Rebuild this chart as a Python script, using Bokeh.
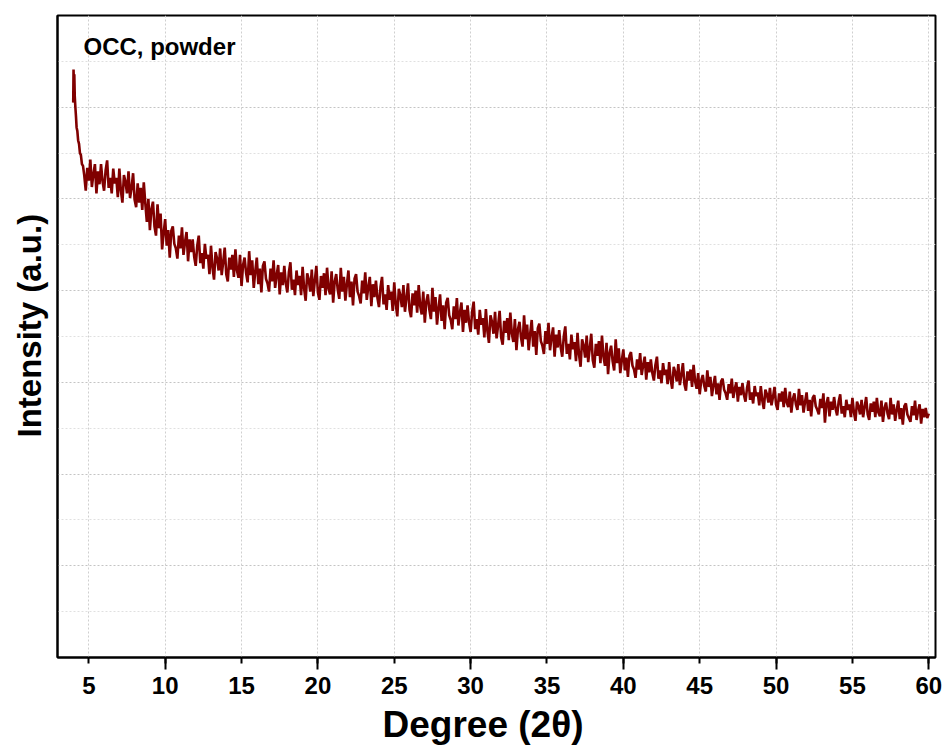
from bokeh.plotting import figure
from bokeh.models import Range1d, FixedTicker, Label, Title
from bokeh.embed import file_html
from bokeh.resources import INLINE

# ---- data ----
x_ticks = [5, 10, 15, 20, 25, 30, 35, 40, 45, 50, 55, 60]
x_long_ticks = [10, 20, 30, 40, 50, 60]
y_grid_major = [1, 2, 3, 4, 5, 6]
y_grid_minor = [0.5, 1.5, 2.5, 3.5, 4.5, 5.5, 6.5]

# initial steep part of the pattern
x_head = [3.98, 4.0, 4.02, 4.05, 4.08, 4.12, 4.16, 4.2, 4.25, 4.3, 4.36, 4.42, 4.48, 4.55, 4.62, 4.7]
y_head = [6.05, 6.41, 6.28, 6.36, 6.12, 6.00, 5.90, 5.78, 5.74, 5.64, 5.60, 5.50, 5.48, 5.38, 5.36, 5.26]

# intensity sampled every 0.1 degree from 4.8 to 60.0 (one row = 1 degree)
x_start = 4.8
x_step = 0.1
y_main = [
    5.09, 5.34, 5.20, 5.43, 5.13, 5.27, 5.38, 5.06, 5.30, 5.16,
    5.38, 5.19, 5.09, 5.31, 5.42, 5.12, 5.23, 5.06, 5.33, 5.17,
    5.23, 5.02, 5.33, 5.09, 4.96, 5.26, 5.19, 5.06, 5.30, 5.01,
    5.12, 5.28, 4.99, 4.91, 5.17, 4.96, 5.12, 4.88, 5.18, 4.95,
    4.75, 5.00, 4.66, 4.89, 4.97, 4.70, 4.60, 4.94, 4.68, 4.84,
    4.45, 4.63, 4.78, 4.49, 4.66, 4.36, 4.65, 4.70, 4.51, 4.46,
    4.35, 4.60, 4.46, 4.69, 4.39, 4.53, 4.64, 4.32, 4.56, 4.42,
    4.56, 4.37, 4.27, 4.49, 4.60, 4.30, 4.41, 4.24, 4.51, 4.35,
    4.39, 4.18, 4.49, 4.25, 4.12, 4.42, 4.35, 4.22, 4.46, 4.17,
    4.31, 4.47, 4.18, 4.10, 4.36, 4.23, 4.39, 4.15, 4.45, 4.22,
    4.14, 4.39, 4.05, 4.28, 4.36, 4.19, 4.09, 4.43, 4.17, 4.33,
    4.03, 4.21, 4.36, 4.07, 4.24, 3.98, 4.27, 4.32, 4.13, 4.08,
    3.99, 4.24, 4.10, 4.33, 4.03, 4.17, 4.28, 3.96, 4.20, 4.06,
    4.27, 4.08, 3.98, 4.20, 4.31, 4.01, 4.12, 3.95, 4.22, 4.06,
    4.16, 3.95, 4.26, 4.02, 3.89, 4.19, 4.12, 3.99, 4.23, 3.94,
    4.11, 4.27, 3.98, 3.90, 4.16, 4.03, 4.19, 3.95, 4.25, 4.02,
    3.96, 4.21, 3.87, 4.10, 4.18, 4.01, 3.91, 4.25, 3.99, 4.15,
    3.89, 4.07, 4.22, 3.93, 4.10, 3.84, 4.13, 4.18, 3.99, 3.94,
    3.86, 4.11, 3.97, 4.20, 3.90, 4.04, 4.15, 3.83, 4.07, 3.93,
    4.11, 3.92, 3.82, 4.04, 4.15, 3.85, 3.96, 3.79, 4.06, 3.90,
    3.99, 3.78, 4.09, 3.85, 3.72, 4.02, 3.95, 3.82, 4.06, 3.77,
    3.92, 4.08, 3.79, 3.71, 3.97, 3.84, 4.00, 3.76, 4.06, 3.83,
    3.74, 3.99, 3.65, 3.88, 3.96, 3.79, 3.69, 4.03, 3.77, 3.93,
    3.63, 3.81, 3.96, 3.67, 3.84, 3.58, 3.87, 3.92, 3.73, 3.68,
    3.58, 3.83, 3.69, 3.92, 3.62, 3.76, 3.87, 3.55, 3.79, 3.65,
    3.84, 3.65, 3.55, 3.77, 3.88, 3.58, 3.69, 3.52, 3.79, 3.63,
    3.70, 3.49, 3.80, 3.56, 3.43, 3.73, 3.66, 3.53, 3.77, 3.48,
    3.62, 3.78, 3.49, 3.41, 3.67, 3.54, 3.70, 3.46, 3.76, 3.53,
    3.44, 3.69, 3.35, 3.58, 3.66, 3.49, 3.39, 3.73, 3.47, 3.63,
    3.35, 3.53, 3.68, 3.39, 3.56, 3.30, 3.59, 3.64, 3.45, 3.40,
    3.31, 3.56, 3.42, 3.65, 3.35, 3.49, 3.60, 3.28, 3.52, 3.38,
    3.57, 3.38, 3.28, 3.50, 3.61, 3.31, 3.42, 3.25, 3.52, 3.36,
    3.44, 3.23, 3.54, 3.30, 3.17, 3.47, 3.40, 3.27, 3.51, 3.22,
    3.37, 3.53, 3.24, 3.16, 3.42, 3.29, 3.45, 3.21, 3.51, 3.28,
    3.18, 3.43, 3.09, 3.32, 3.40, 3.23, 3.13, 3.47, 3.21, 3.37,
    3.10, 3.24, 3.36, 3.13, 3.27, 3.06, 3.29, 3.33, 3.18, 3.14,
    3.05, 3.25, 3.14, 3.32, 3.08, 3.19, 3.28, 3.03, 3.22, 3.11,
    3.25, 3.10, 3.02, 3.19, 3.28, 3.04, 3.13, 2.99, 3.21, 3.08,
    3.14, 2.98, 3.22, 3.03, 2.93, 3.17, 3.11, 3.01, 3.20, 2.97,
    3.08, 3.21, 2.98, 2.91, 3.12, 3.02, 3.14, 2.95, 3.19, 3.01,
    2.93, 3.10, 2.87, 3.02, 3.08, 2.96, 2.90, 3.13, 2.95, 3.06,
    2.85, 2.97, 3.07, 2.87, 2.99, 2.81, 3.01, 3.04, 2.92, 2.88,
    2.81, 2.98, 2.88, 3.04, 2.83, 2.93, 3.00, 2.79, 2.95, 2.86,
    2.99, 2.86, 2.79, 2.94, 3.02, 2.81, 2.89, 2.77, 2.96, 2.85,
    2.89, 2.75, 2.96, 2.80, 2.71, 2.92, 2.87, 2.78, 2.94, 2.75,
    2.84, 2.95, 2.76, 2.70, 2.88, 2.79, 2.90, 2.73, 2.94, 2.78,
    2.73, 2.90, 2.67, 2.82, 2.88, 2.76, 2.70, 2.93, 2.75, 2.86,
    2.67, 2.79, 2.89, 2.69, 2.81, 2.63, 2.83, 2.86, 2.74, 2.70,
    2.65, 2.82, 2.72, 2.88, 2.56, 2.77, 2.84, 2.63, 2.79, 2.70,
    2.84, 2.71, 2.64, 2.79, 2.87, 2.66, 2.74, 2.62, 2.81, 2.70,
    2.76, 2.62, 2.83, 2.67, 2.58, 2.79, 2.74, 2.65, 2.81, 2.62,
    2.73, 2.84, 2.65, 2.59, 2.77, 2.68, 2.79, 2.62, 2.83, 2.67,
    2.63, 2.80, 2.57, 2.72, 2.78, 2.66, 2.60, 2.83, 2.65, 2.76,
    2.58, 2.70, 2.80, 2.60, 2.72, 2.54, 2.74, 2.77, 2.65, 2.61,
    2.57, 2.74, 2.64, 2.80, 2.59, 2.69, 2.76, 2.55, 2.71, 2.62,
    2.72, 2.61, 2.66,
]
x_main = [round(x_start + x_step * i, 2) for i in range(len(y_main))]

x = x_head + x_main
y = y_head + y_main

FONT = "Liberation Sans"

p = figure(frame_width=878, frame_height=642,
           x_range=Range1d(2.95, 60.44), y_range=Range1d(0, 7),
           output_backend="svg", toolbar_location=None,
           min_border_left=57, min_border_top=15, min_border_right=11,
           min_border_bottom=92)
p.background_fill_color = "white"
p.border_fill_color = "white"
p.outline_line_color = "black"
p.outline_line_width = 2

p.line(x, y, line_color="#800000", line_width=2.6)

# x axis
xa = p.xaxis[0]
xa.ticker = FixedTicker(ticks=x_ticks, minor_ticks=x_long_ticks)
xa.axis_line_color = "black"
xa.axis_line_width = 2
xa.major_tick_line_color = "black"
xa.major_tick_line_width = 2
xa.major_tick_out = 6
xa.major_tick_in = 0
xa.minor_tick_line_color = "black"
xa.minor_tick_line_width = 2
xa.minor_tick_out = 12
xa.minor_tick_in = 0
xa.major_label_text_font = FONT
xa.major_label_text_font_style = "bold"
xa.major_label_text_font_size = "24px"
xa.major_label_text_color = "black"
xa.major_label_standoff = 7

# y axis (no ticks, no labels)
ya = p.yaxis[0]
ya.ticker = FixedTicker(ticks=[], minor_ticks=[])
ya.axis_line_color = "black"
ya.axis_line_width = 2
ya.major_tick_line_color = None
ya.minor_tick_line_color = None
ya.major_tick_out = 0
ya.major_tick_in = 0
ya.minor_tick_out = 0
ya.major_label_standoff = 0

# grids
p.xgrid.grid_line_color = "#cfcfcf"
p.xgrid.grid_line_dash = "2 2"
p.xgrid.grid_line_width = 1
p.ygrid.ticker = FixedTicker(ticks=y_grid_major, minor_ticks=y_grid_minor)
p.ygrid.grid_line_color = "#c4c4c4"
p.ygrid.grid_line_dash = "2 2"
p.ygrid.grid_line_width = 1
p.ygrid.minor_grid_line_color = "#e0e0e0"
p.ygrid.minor_grid_line_dash = "2 2"
p.ygrid.minor_grid_line_width = 1

# axis titles
p.add_layout(Title(text="Degree (2θ)", align="left", offset=325, standoff=11,
                   text_font=FONT, text_font_style="bold",
                   text_font_size="37px", text_color="black"), "below")
p.add_layout(Title(text="Intensity (a.u.)", align="left", offset=220, standoff=17,
                   vertical_align="middle",
                   text_font=FONT, text_font_style="bold",
                   text_font_size="33px", text_color="black"), "left")

p.add_layout(Label(x=4.65, y=6.66, text="OCC, powder",
                   text_font=FONT, text_font_style="bold",
                   text_font_size="24px", text_color="black",
                   text_baseline="alphabetic", text_align="left"))

open("out.html", "w").write(file_html(p, INLINE))
